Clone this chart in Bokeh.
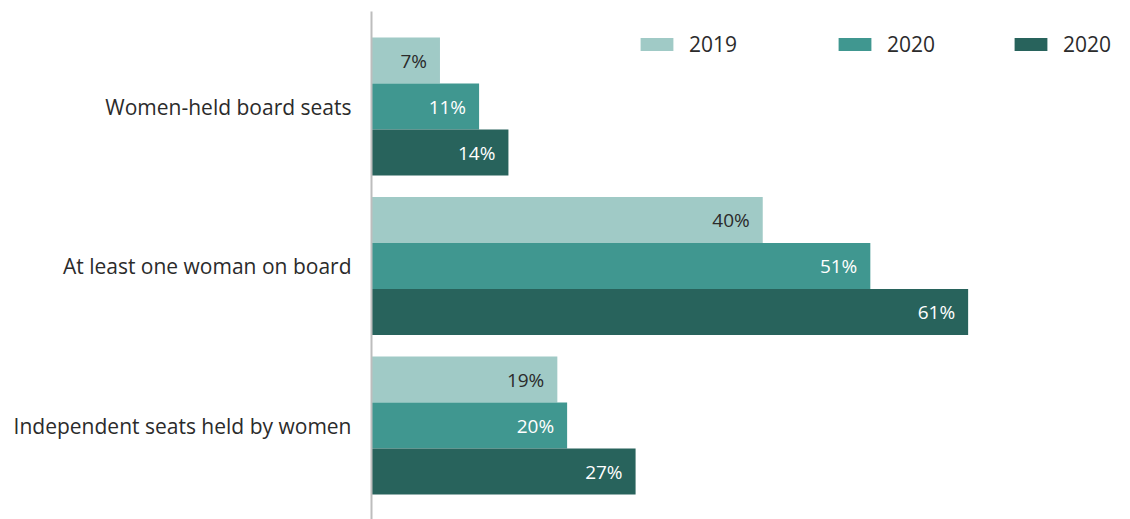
from bokeh.plotting import figure
from bokeh.models import (ColumnDataSource, Range1d, FixedTicker, Legend, LegendItem,
                          LabelSet)
from bokeh.core.properties import value
from bokeh.embed import file_html
from bokeh.resources import INLINE

categories = ["Women-held board seats", "At least one woman on board",
              "Independent seats held by women"]
series_names = ["2019", "2020", "2020"]
v2019 = [7, 40, 19]
v2020a = [11, 51, 20]
v2020b = [14, 61, 27]
colors = ["#A0CAC6", "#409790", "#28635C"]
label_colors = ["#2B2B2B", "#FFFFFF", "#FFFFFF"]

FONT = "Open Sans"
BAR_H = 0.2884
offsets = [-BAR_H, 0.0, BAR_H]

p = figure(width=1130, height=519, output_backend="svg", toolbar_location=None,
           x_range=Range1d(0, 77.6), y_range=Range1d(2.589, -0.596),
           min_border_left=371, min_border_top=11, min_border_bottom=0,
           min_border_right=0)
p.outline_line_color = None
p.xgrid.visible = False
p.ygrid.visible = False
p.xaxis.visible = False

renderers = []
for vals, off, col, lc in zip([v2019, v2020a, v2020b], offsets, colors, label_colors):
    src = ColumnDataSource(dict(
        y=[i + off for i in range(len(categories))],
        right=vals,
        txt=[f"{v}%" for v in vals],
    ))
    r = p.hbar(y="y", left=0, right="right", height=BAR_H, source=src,
               fill_color=col, line_color=None)
    renderers.append(r)
    labels = LabelSet(x="right", y="y", text="txt", source=src, x_offset=-13,
                      text_align="right", text_baseline="middle",
                      text_font=value(FONT), text_font_size="19px", text_color=lc)
    p.add_layout(labels)

yaxis = p.yaxis[0]
yaxis.ticker = FixedTicker(ticks=[0, 1, 2])
yaxis.major_label_overrides = {i: c for i, c in enumerate(categories)}
yaxis.major_tick_line_color = None
yaxis.minor_tick_line_color = None
yaxis.axis_line_color = "#BDBDBD"
yaxis.axis_line_width = 2
yaxis.major_label_text_font = FONT
yaxis.major_label_text_font_size = "21px"
yaxis.major_label_text_color = "#2B2B2B"
yaxis.major_label_standoff = 14

legend_x = [265, 463, 639]
for name, r, lx in zip(series_names, renderers, legend_x):
    leg = Legend(items=[LegendItem(label=name, renderers=[r])], location=(lx, 461),
                 orientation="horizontal", glyph_width=41, glyph_height=16,
                 label_standoff=12, padding=0, margin=0, spacing=0,
                 border_line_color=None, background_fill_alpha=0,
                 label_text_font=FONT, label_text_font_size="21px",
                 label_text_color="#2B2B2B")
    p.add_layout(leg)

open("out.html", "w").write(file_html(p, INLINE))
